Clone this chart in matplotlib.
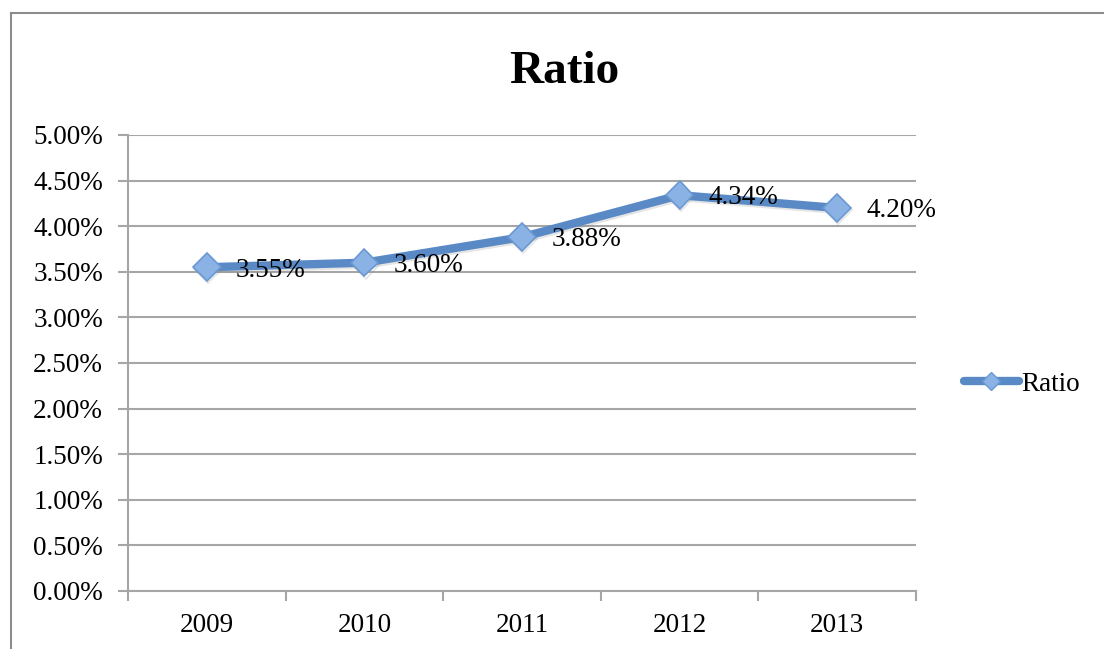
import numpy as np
import matplotlib
matplotlib.use("Agg")
import matplotlib.pyplot as plt
import matplotlib.patheffects as pe
from matplotlib.lines import Line2D
from matplotlib.ticker import PercentFormatter, FixedLocator, NullFormatter

years = ["2009", "2010", "2011", "2012", "2013"]
ratio = [0.0355, 0.0360, 0.0388, 0.0434, 0.0420]
label_text = ["3.55%", "3.60%", "3.88%", "4.34%", "4.20%"]
series_name = "Ratio"

W, H = 1104, 649
line_color = "#5A8AC6"
marker_face = "#8AB2E4"
marker_edge = "#6A98D2"
grid_color = "#A6A6A6"
serif = ["Liberation Serif", "DejaVu Serif"]
fs = 19.5

plt.rcParams["font.family"] = serif

fig = plt.figure(figsize=(W / 100, H / 100), dpi=100)
ax = fig.add_axes([128 / W, 1 - 591 / H, (916 - 128) / W, (591 - 135) / H])

x = np.arange(len(years))
shadow = [pe.SimpleLineShadow(offset=(0.8, -1.5), shadow_color="gray", alpha=0.2), pe.Normal()]
ax.plot(x, ratio, color=line_color, linewidth=6, solid_capstyle="round",
        path_effects=shadow, zorder=3)
ax.plot(x, ratio, linestyle="none", marker="D", markersize=14,
        markerfacecolor=marker_face, markeredgecolor=marker_edge, markeredgewidth=1.2,
        path_effects=shadow, zorder=4)

for xi, yi, txt in zip(x, ratio, label_text):
    ax.annotate(txt, (xi, yi), xytext=(21, -2), textcoords="offset points",
                ha="left", va="center", fontsize=fs, color="black", zorder=5)

ax.set_xlim(-0.5, len(years) - 0.5)
ax.set_ylim(0, 0.05)
ax.set_yticks(np.arange(0, 0.0501, 0.005))
ax.yaxis.set_major_formatter(PercentFormatter(xmax=1, decimals=2))

# category boundaries carry the ticks, category centres carry the labels
ax.xaxis.set_major_locator(FixedLocator(np.arange(-0.5, len(years), 1.0)))
ax.xaxis.set_major_formatter(NullFormatter())
ax.xaxis.set_minor_locator(FixedLocator(x))
ax.set_xticklabels(years, minor=True)
ax.tick_params(axis="x", which="major", length=7, width=1.5, color=grid_color, direction="out")
ax.tick_params(axis="x", which="minor", length=0, pad=16, labelsize=fs)
ax.tick_params(axis="y", length=7, width=1.5, color=grid_color, direction="out",
               pad=11, labelsize=fs)

ax.grid(axis="y", color=grid_color, linewidth=1.5)
ax.set_axisbelow(True)
for side in ("top", "right"):
    ax.spines[side].set_visible(False)
for side in ("left", "bottom"):
    ax.spines[side].set_color(grid_color)
    ax.spines[side].set_linewidth(1.5)

# legend on the right
handle = Line2D([], [], color=line_color, linewidth=6, solid_capstyle="round",
                marker="D", markersize=9, markerfacecolor=marker_face,
                markeredgecolor=marker_edge)
fig.legend([handle], [series_name], loc="center left",
           bbox_to_anchor=(950 / W, 1 - 384 / H), frameon=False,
           fontsize=fs, handlelength=2.05, handletextpad=0.1, borderpad=0)

fig.text(564 / W, 1 - 72 / H, "Ratio", ha="center", va="center",
         fontsize=34, fontweight="bold", family=serif)

# chart area border
fig.add_artist(Line2D([11 / W, 1.0], [1 - 13 / H, 1 - 13 / H], color="#8C8C8C", linewidth=1.5))
fig.add_artist(Line2D([11 / W, 11 / W], [0.0, 1 - 13 / H], color="#8C8C8C", linewidth=1.5))

fig.savefig("out.png", dpi=100)
